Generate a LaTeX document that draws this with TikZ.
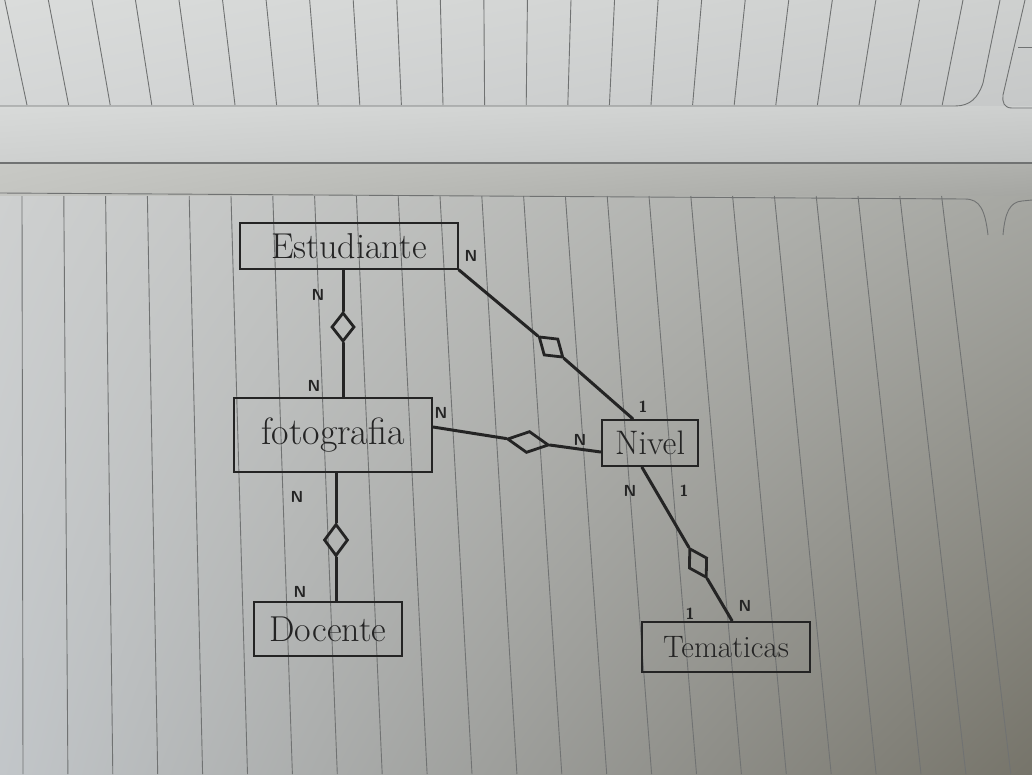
\documentclass[tikz,border=0pt]{standalone}
\usepackage{fontspec}
\usetikzlibrary{shapes.geometric,shadings}
\definecolor{ink}{HTML}{242424}
\definecolor{rulec}{HTML}{707272}
\definecolor{pAul}{RGB}{218,220,219}\definecolor{pAur}{RGB}{206,208,207}
\definecolor{pAll}{RGB}{212,214,214}\definecolor{pAlr}{RGB}{198,200,200}
\definecolor{pBul}{RGB}{216,218,217}\definecolor{pBur}{RGB}{206,208,207}
\definecolor{pBll}{RGB}{206,208,207}\definecolor{pBlr}{RGB}{192,194,193}
\definecolor{pCul}{RGB}{200,201,197}\definecolor{pCur}{RGB}{176,177,173}
\definecolor{pCll}{RGB}{196,197,193}\definecolor{pClr}{RGB}{165,166,162}
\definecolor{pDul}{RGB}{206,208,208}\definecolor{pDur}{RGB}{166,167,162}
\definecolor{pDll}{RGB}{194,198,201}\definecolor{pDlr}{RGB}{118,116,106}
\begin{document}
\begin{tikzpicture}[x=1pt,y=-1pt,
  ent/.style={draw=ink, line width=2.2pt, inner sep=0pt, text=ink},
  rel/.style={draw=ink, line width=2.8pt, diamond, inner sep=0pt},
  conn/.style={draw=ink, line width=3pt, line cap=round},
  card/.style={font=\sffamily\bfseries\fontsize{16}{17}\selectfont, text=ink, inner sep=0pt},
  paperline/.style={draw=rulec, line width=0.9pt}
]
\useasboundingbox (0,0) rectangle (1032,774);
% ---------- paper background ----------
\shade[shading=bilinear interpolation, upper left=pAul, upper right=pAur, lower left=pAll, lower right=pAlr]
  (0,0) rectangle (1032,106);
\shade[shading=bilinear interpolation, upper left=pBul, upper right=pBur, lower left=pBll, lower right=pBlr]
  (0,106) rectangle (1032,163);
\shade[shading=bilinear interpolation, upper left=pCul, upper right=pCur, lower left=pCll, lower right=pClr]
  (0,163) rectangle (1032,196);
\shade[shading=bilinear interpolation, upper left=pDul, upper right=pDur, lower left=pDll, lower right=pDlr]
  (0,196) rectangle (1032,774);
% upper page rules
\foreach \i in {0,...,22} {
  \pgfmathsetmacro{\xb}{27+41.6*\i}
  \pgfmathsetmacro{\xt}{\xb+(\xb-500)*0.047}
  \draw[paperline] (\xt,0) -- (\xb,105);
}
\draw[paperline] (0,106) -- (955,106) .. controls (970,106) and (978,98) .. (983,83) -- (1000,0);
\draw[paperline] (1032,108) -- (1012,108) .. controls (1004,108) and (1002,102) .. (1003,95) -- (1025,0);
\draw[paperline] (1018,47) -- (1032,47);
\draw[rulec, line width=1.3pt] (0,163) -- (1032,163);
% lower page rules
\draw[paperline] (0,193) -- (965,199) .. controls (980,199) and (985,210) .. (988,235);
\draw[paperline] (1032,200) -- (1022,201) .. controls (1010,202) and (1005,212) .. (1003,235);
\foreach \i in {0,...,22} {
  \pgfmathsetmacro{\xt}{22+41.8*\i}
  \pgfmathsetmacro{\xb}{23+44.9*\i}
  \draw[paperline] (\xt,196) -- (\xb,774);
}
% ---------- entities ----------
\node[ent, line width=1.6pt, minimum width=218pt, minimum height=46pt, font=\fontsize{36}{40}\selectfont] (est) at (349,246) {Estudiante};
\node[ent, minimum width=198pt, minimum height=74pt, font=\fontsize{38}{42}\selectfont] (foto) at (333,435) {fotografia};
\node[ent, line width=2.6pt, minimum width=96pt, minimum height=46pt, font=\fontsize{34}{38}\selectfont] (nivel) at (650,443) {Nivel};
\node[ent, line width=2.6pt, minimum width=148pt, minimum height=54pt, font=\fontsize{36}{40}\selectfont] (doc) at (328,629) {Docente};
\node[ent, line width=2.6pt, minimum width=168pt, minimum height=50pt, font=\fontsize{31}{35}\selectfont] (tem) at (726,647) {Tematicas};
% ---------- relationships ----------
\node[rel, minimum width=23pt, minimum height=29pt] (d1) at (343,327) {};
\node[rel, minimum width=32pt, minimum height=22pt, rotate=-40.6] (d2) at (551,347) {};
\node[rel, minimum width=42pt, minimum height=22pt, rotate=-8.4] (d3) at (528,442) {};
\node[rel, minimum width=24pt, minimum height=32pt] (d4) at (336,540) {};
\node[rel, minimum width=34pt, minimum height=21pt, rotate=-60] (d5) at (698,563) {};
% ---------- connectors ----------
\draw[conn] (est.south -| d1) -- (d1) -- (foto.north -| d1);
\draw[conn] (est.south east) -- (d2) -- ([xshift=32pt]nivel.north west);
\draw[conn] ([yshift=8pt]foto.east) -- (d3) -- ([yshift=-9pt]nivel.west);
\draw[conn] (foto.south -| d4) -- (d4) -- (doc.north -| d4);
\draw[conn] ([xshift=-8pt]nivel.south) -- (d5) -- ([xshift=6pt]tem.north);
% ---------- cardinalities ----------
\node[card] (c1) at (318,295) {N};
\node[card] (c2) at (314,386) {N};
\node[card] (c3) at (471,256) {N};
\node[card] (c4) at (643,407) {1};
\node[card] (c5) at (441,413) {N};
\node[card] (c6) at (580,440) {N};
\node[card] (c7) at (297,497) {N};
\node[card] (c8) at (300,592) {N};
\node[card] (c9) at (630,491) {N};
\node[card] (c10) at (684,491) {1};
\node[card] (c11) at (690,614) {1};
\node[card] (c12) at (745,606) {N};
\end{tikzpicture}
\end{document}
